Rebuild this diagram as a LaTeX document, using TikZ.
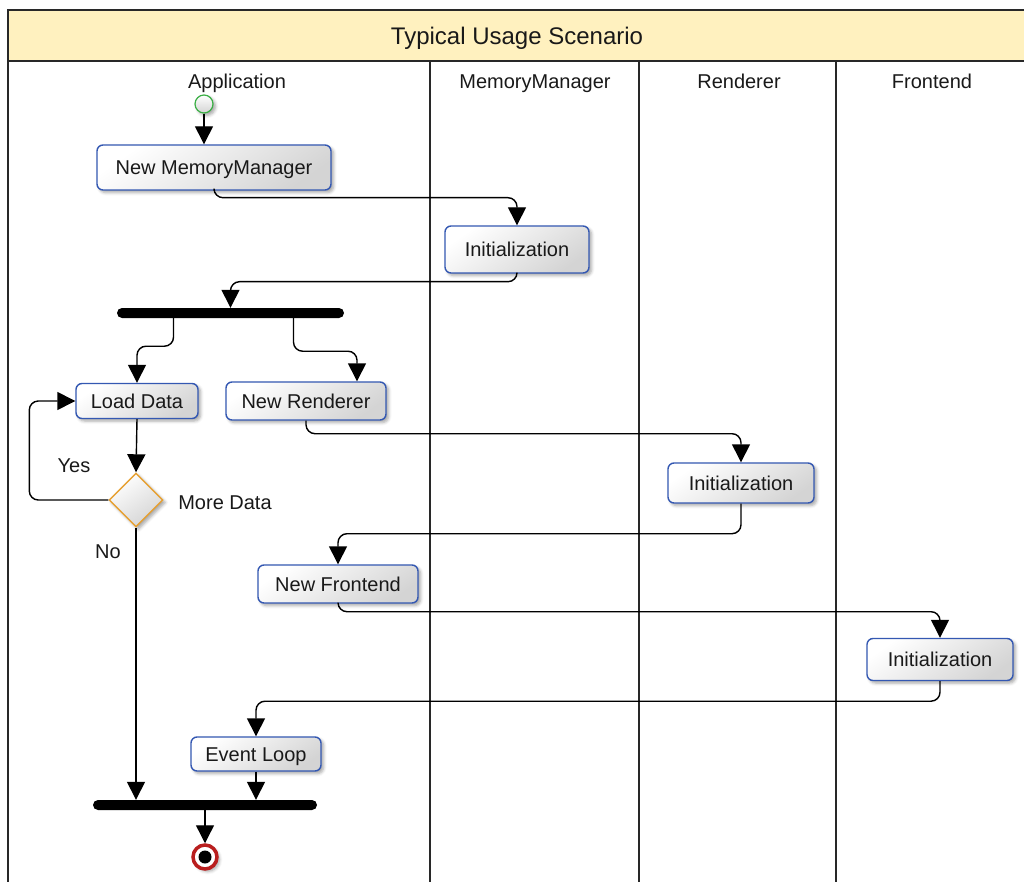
\documentclass[tikz,border=0pt]{standalone}
\usepackage{fontspec}
\setmainfont{Liberation Sans}
\usetikzlibrary{arrows.meta,shapes.geometric,calc,shadows.blur}

\definecolor{bandfill}{RGB}{255,241,191}
\definecolor{framecol}{RGB}{40,40,40}
\definecolor{actborder}{RGB}{52,88,178}
\definecolor{actshade}{RGB}{212,212,212}
\definecolor{decborder}{RGB}{230,160,50}
\definecolor{startcol}{RGB}{60,175,70}
\definecolor{endcol}{RGB}{185,30,30}
\definecolor{txt}{RGB}{25,25,25}

\begin{document}
\begin{tikzpicture}[x=1pt,y=-1pt,
  every node/.style={text=txt},
  lbl/.style={font=\fontsize{20}{24}\selectfont, inner sep=0pt,
      text height=14.5pt, text depth=0pt},
  softshadow/.style={blur shadow={shadow xshift=2.5pt, shadow yshift=-2.5pt,
      shadow blur radius=3pt, shadow opacity=35}},
  action/.style={draw=actborder, line width=1.4pt, rounded corners=6pt,
      top color=white, bottom color=actshade, shading angle=35,
      softshadow, font=\fontsize{20}{24}\selectfont, inner sep=0pt,
      text height=14.5pt, text depth=0pt},
  decision/.style={diamond, aspect=1, draw=decborder, line width=1.4pt,
      top color=white, bottom color=actshade, shading angle=35,
      softshadow, inner sep=0pt, minimum width=54pt, minimum height=54pt},
  bar/.style={fill=black, rounded corners=5pt, inner sep=0pt, minimum height=10pt},
  startstate/.style={circle, draw=startcol, line width=1.2pt, inner sep=0pt,
      minimum size=18pt, top color=white, bottom color=actshade, softshadow},
  endstate/.style={circle, draw=endcol, line width=3.5pt, fill=white, inner sep=0pt,
      minimum size=24pt, softshadow,
      path picture={\fill[black] (path picture bounding box.center) circle (6.5pt);}},
  flow/.style={draw=black, line width=1.4pt, rounded corners=9pt,
      -{Triangle[length=18pt,width=18pt]}},
  lane/.style={draw=framecol, line width=1.5pt}
]
\useasboundingbox (0,0) rectangle (1024,882);

% swimlane frame and title band
\fill[bandfill] (8,10) rectangle (1030,61);
\draw[lane] (8,882) -- (8,10) -- (1030,10);
\draw[lane] (8,61) -- (1030,61);
\draw[lane] (430,61) -- (430,882);
\draw[lane] (639,61) -- (639,882);
\draw[lane] (836,61) -- (836,882);
\node[font=\fontsize{24}{28}\selectfont, inner sep=0pt, text height=17.5pt, text depth=0pt]
  (title) at (517,36) {Typical Usage Scenario};

% lane headers
\node[lbl] (hApp) at (237,81) {Application};
\node[lbl] (hMM) at (535,81) {MemoryManager};
\node[lbl] (hRen) at (739,81) {Renderer};
\node[lbl] (hFe) at (932,81) {Frontend};

% activity nodes
\node[startstate] (st) at (204,104) {};
\node[action, minimum width=234pt, minimum height=45pt] (nmm) at (214,167.5) {New MemoryManager};
\node[action, minimum width=144pt, minimum height=47pt] (imm) at (517,249.5) {Initialization};
\node[bar, minimum width=227pt] (fork) at (230.5,313) {};
\node[action, minimum width=122pt, minimum height=35pt] (ld) at (137,401) {Load Data};
\node[action, minimum width=160pt, minimum height=38pt] (nr) at (306,401) {New Renderer};
\node[decision] (dm) at (136,500) {};
\node[action, minimum width=146pt, minimum height=40pt] (ir) at (741,483) {Initialization};
\node[action, minimum width=160pt, minimum height=38pt] (nf) at (338,584) {New Frontend};
\node[action, minimum width=146pt, minimum height=42pt] (ifr) at (940,659.5) {Initialization};
\node[action, minimum width=130pt, minimum height=34pt] (el) at (256,754) {Event Loop};
\node[bar, minimum width=224pt] (join) at (205,805) {};
\node[endstate] (en) at (205,857) {};

% labels
\node[lbl] (yes) at (74,465) {Yes};
\node[lbl] (more) at (225,502) {More Data};
\node[lbl] (no) at (108,551) {No};

% control flow
\draw[flow] (st.south) -- (st.south |- nmm.north);
\draw[flow] (nmm.south) -- ++(0,7) -| (imm.north);
\draw[flow] (imm.south) -- ++(0,8) -| (fork.north);
\draw[flow] ($(fork.south)+(-57,0)$) -- ++(0,28) -| (ld.north);
\draw[flow] ($(fork.south)+(63,0)$) -- ++(0,33) -| ($(nr.north)+(51,0)$);
\draw[flow] (ld.south) -- (dm.north);
\draw[flow] (dm.west) -- ++(-79,0) |- (ld.west);
\draw[flow] (dm.south) -- (dm.south |- join.north);
\draw[flow] (nr.south) -- ++(0,13) -| (ir.north);
\draw[flow] (ir.south) -- ++(0,30) -| (nf.north);
\draw[flow] (nf.south) -- ++(0,8) -| (ifr.north);
\draw[flow] (ifr.south) -- ++(0,20) -| (el.north);
\draw[flow] (el.south) -- (el.south |- join.north);
\draw[flow] (join.south) -- (en.north);
\end{tikzpicture}
\end{document}
